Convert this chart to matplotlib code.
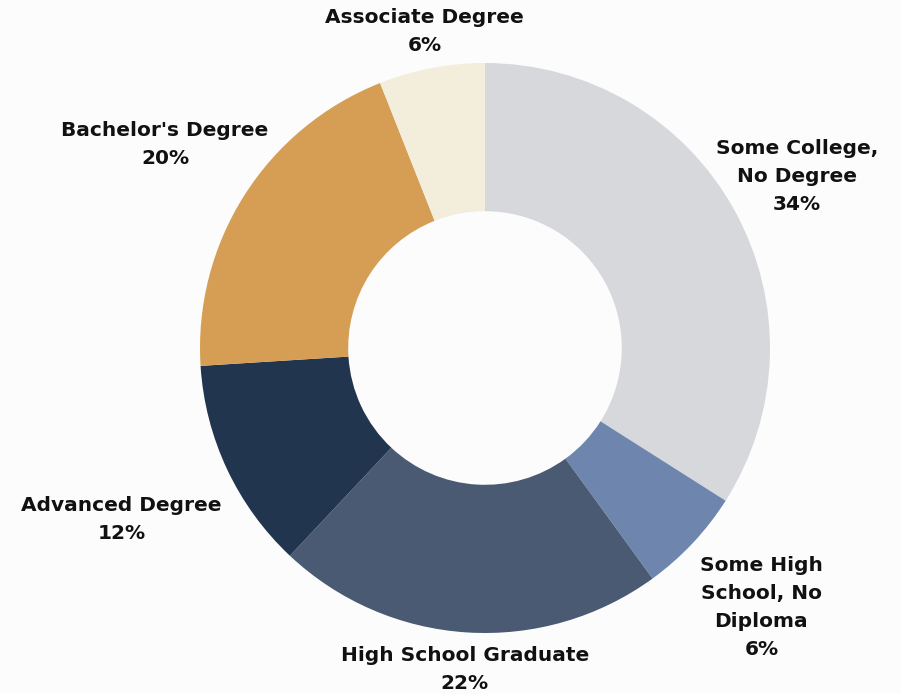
import numpy as np
import matplotlib
matplotlib.use("Agg")
import matplotlib.pyplot as plt

# education levels, clockwise from 12 o'clock
categories = ["Some College,\nNo Degree", "Some High\nSchool, No\nDiploma",
              "High School Graduate", "Advanced Degree",
              "Bachelor's Degree", "Associate Degree"]
shares = [34, 6, 22, 12, 20, 6]
colors = ["#D7D8DC", "#6E86AE", "#4A5A73", "#22354F", "#D69E55", "#F3EDDC"]
# radial distance of each label centre, as a multiple of the outer radius
label_dist = [1.25, 1.33, 1.13, 1.41, 1.33, 1.13]

W, H = 901, 694
cx, cy, R = 485, H - 348, 285

fig = plt.figure(figsize=(W / 100, H / 100), dpi=100)
fig.patch.set_facecolor("#FCFCFC")
ax = fig.add_axes([0, 0, 1, 1])
ax.set_facecolor("#FCFCFC")

ax.pie(shares, colors=colors, startangle=90, counterclock=False,
       radius=R, center=(cx, cy),
       wedgeprops=dict(width=R * 0.52, linewidth=0))

total = float(sum(shares))
start = 0.0
for name, val, d in zip(categories, shares, label_dist):
    mid = np.deg2rad((start + val / 2) / total * 360)
    start += val
    x = cx + d * R * np.sin(mid)
    y = cy + d * R * np.cos(mid)
    ax.text(x, y, f"{name}\n{val}%", ha="center", va="center",
            multialignment="center", fontsize=14.5, fontweight="bold",
            color="#111111", linespacing=1.6, family="DejaVu Sans")

ax.set_xlim(0, W)
ax.set_ylim(0, H)
ax.set_aspect("equal")
ax.axis("off")

fig.savefig("out.png", dpi=100, facecolor=fig.get_facecolor())
